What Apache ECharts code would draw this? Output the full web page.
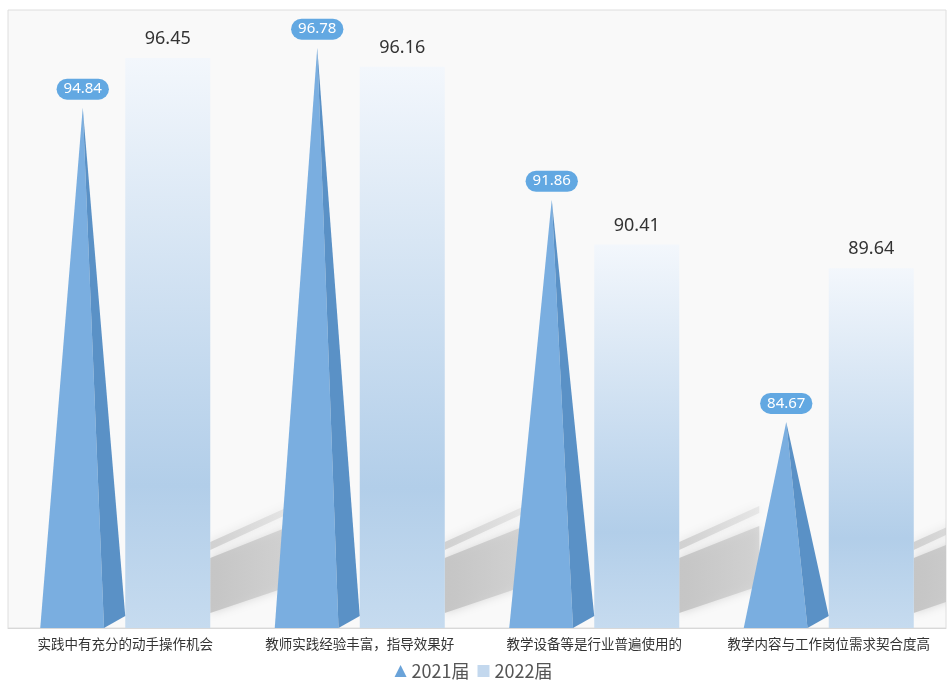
<!DOCTYPE html>
<html>
<head>
<meta charset="utf-8">
<script src="https://cdn.jsdelivr.net/npm/echarts@6/dist/echarts.min.js"></script>
<style>html,body{margin:0;padding:0;background:#fff;}#c{width:947px;height:686px;}</style>
</head>
<body>
<div id="c"></div>
<script>
const categories = ['实践中有充分的动手操作机会', '教师实践经验丰富，指导效果好', '教学设备等是行业普遍使用的', '教学内容与工作岗位需求契合度高'];
const values2021 = [94.84, 96.78, 91.86, 84.67];
const values2022 = [96.45, 96.16, 90.41, 89.64];
const Y_MIN = 78, Y_MAX = 98;
const BAR_FRAC = 0.3625;

const chart = echarts.init(document.getElementById('c'));

function renderPyramid(params, api) {
  const idx = api.value(0), v = api.value(1);
  const top = api.coord([idx, v]);
  const base = api.coord([idx, Y_MIN]);
  const W = api.size([1, 0])[0];
  const hw = W * BAR_FRAC / 2;
  const cx = top[0] - hw;
  const y0 = base[1], yt = top[1];
  return {
    type: 'group',
    children: [
      { type: 'polygon', shape: { points: [[cx - hw, y0], [cx, yt], [cx + hw * 0.5, y0]] },
        style: { fill: '#7aaee0' } },
      { type: 'polygon', shape: { points: [[cx + hw * 0.5, y0], [cx, yt], [cx + hw, y0 - 12]] },
        style: { fill: '#5a91c6' } }
    ]
  };
}

function shadowFill(a0, a1) {
  return new echarts.graphic.LinearGradient(0, 0, 1, 0, [
    { offset: 0, color: 'rgba(196,196,196,' + a0 + ')' },
    { offset: 1, color: 'rgba(204,204,204,' + a1 + ')' }
  ]);
}

function renderShadow(params, api) {
  const idx = api.value(0);
  const base = api.coord([idx, Y_MIN]);
  const W = api.size([1, 0])[0];
  const xr = base[0] + W * BAR_FRAC;
  const y0 = base[1];
  const L = 80;
  return {
    type: 'group',
    children: [
      { type: 'polygon', shape: { points: [[xr, y0 - 86], [xr + L, y0 - 122], [xr + L, y0 - 115], [xr, y0 - 78]] },
        style: { fill: shadowFill(0.7, 0.35), shadowBlur: 10, shadowColor: 'rgba(200,200,200,0.7)' } },
      { type: 'polygon', shape: { points: [[xr, y0 - 70], [xr + L, y0 - 102], [xr + L, y0 - 42], [xr, y0 - 15]] },
        style: { fill: shadowFill(0.95, 0.7), shadowBlur: 10, shadowColor: 'rgba(200,200,200,0.8)' } }
    ]
  };
}

chart.setOption({
  animation: false,
  backgroundColor: '#ffffff',
  grid: { left: 8, right: 1, top: 10, bottom: 58, show: true, backgroundColor: '#f9f9f9', borderColor: '#dedede', borderWidth: 1 },
  legend: {
    bottom: 1, left: 'center', itemWidth: 12, itemHeight: 12, itemGap: 8,
    textStyle: { fontSize: 18, color: '#555', fontFamily: 'Noto Sans CJK SC' },
    data: [
      { name: '2021届', icon: 'triangle', itemStyle: { color: '#6aa3d9' } },
      { name: '2022届', icon: 'rect', itemStyle: { color: '#c3d8ee' } }
    ]
  },
  xAxis: {
    type: 'category', data: categories,
    axisTick: { show: false },
    axisLine: { lineStyle: { color: '#d8d8d8' } },
    axisLabel: { color: '#333', fontSize: 13.5, margin: 9, interval: 0, fontFamily: 'Noto Sans CJK SC' }
  },
  yAxis: { type: 'value', min: Y_MIN, max: Y_MAX, show: false, splitLine: { show: false } },
  series: [
    {
      type: 'custom', name: 'shadow', z: 1, clip: true, silent: true,
      renderItem: renderShadow,
      data: values2022.map((v, i) => [i, v])
    },
    {
      type: 'bar', name: '2021届', barWidth: (BAR_FRAC * 100) + '%', barGap: '0%', z: 3,
      itemStyle: { color: 'rgba(0,0,0,0)' },
      label: {
        show: true, position: 'top', distance: 8, color: '#fff', fontSize: 15,
        fontFamily: 'Noto Sans', backgroundColor: '#62a8e2', padding: [3, 7], borderRadius: 12
      },
      data: values2021
    },
    {
      type: 'bar', name: '2022届', barWidth: (BAR_FRAC * 100) + '%', barGap: '0%', z: 2,
      itemStyle: {
        color: new echarts.graphic.LinearGradient(0, 0, 0, 1, [
          { offset: 0, color: '#f3f7fc' },
          { offset: 0.75, color: '#b2cee9' },
          { offset: 1, color: '#c6dbef' }
        ])
      },
      label: { show: true, position: 'top', distance: 10, color: '#333', fontSize: 18, fontFamily: 'Noto Sans' },
      data: values2022
    },
    {
      type: 'custom', name: '2021届', z: 4, clip: true,
      itemStyle: { color: '#6aa3d9' },
      renderItem: renderPyramid,
      data: values2021.map((v, i) => [i, v])
    }
  ]
});
</script>
</body>
</html>
